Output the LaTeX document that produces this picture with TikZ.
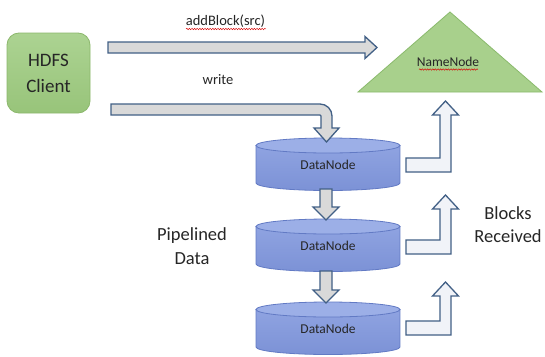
\documentclass[tikz,border=0pt]{standalone}
\usepackage{fontspec}
\setmainfont{Carlito}
\usetikzlibrary{decorations.pathmorphing}

\definecolor{inktext}{RGB}{38,38,38}
\definecolor{arrowedge}{RGB}{66,96,134}
\definecolor{shaftgrey}{RGB}{217,217,217}
\definecolor{palefill}{RGB}{241,243,248}
\definecolor{cyledge}{RGB}{98,122,196}
\definecolor{cyllidfill}{RGB}{156,175,231}
\definecolor{cylupper}{RGB}{143,163,225}
\definecolor{cyllower}{RGB}{124,146,214}
\definecolor{clientedge}{RGB}{140,184,108}
\definecolor{clientupper}{RGB}{172,211,146}
\definecolor{clientlower}{RGB}{152,196,122}
\definecolor{nameedge}{RGB}{138,186,108}
\definecolor{namefill}{RGB}{168,208,140}

% one DataNode drum: #1 = name, #2 = y of the top rim
\newcommand\datadrum[2]{%
  \coordinate (#1) at (328,#2);
  \path[drumside] (256,#2+7.5) -- (256,#2+45)
     arc[start angle=180,end angle=0,x radius=72,y radius=7.5]
     -- (400,#2+7.5) -- cycle;
  \draw[drumlid] (328,#2+7.5) ellipse[x radius=72,y radius=7.5];
  \node[dntext] (#1label) at (328,#2+31) {DataNode};
}

% arrow climbing from a drum to the NameNode: #1 = y of bar top, #2 = y of tip
\newcommand\risearrow[2]{%
  \draw[riseblock] (406,#1) -- (440,#1) -- (440,#2+14) -- (432.5,#2+14)
     -- (445.5,#2) -- (458.5,#2+14) -- (451,#2+14) -- (451,#1+14)
     -- (406,#1+14) -- cycle;
}

% short arrow down the pipeline: #1 = y of shaft start, #2 = y of tip
\newcommand\pipearrow[2]{%
  \draw[blockarrow] (320,#1) -- (332,#1) -- (332,#2-13) -- (339,#2-13)
     -- (326,#2) -- (313,#2-13) -- (320,#2-13) -- cycle;
}

\begin{document}
\begin{tikzpicture}[x=1pt,y=-1pt,
  blockarrow/.style={draw=arrowedge,line width=1.3pt,line join=miter,fill=shaftgrey},
  riseblock/.style={blockarrow,fill=palefill},
  drumside/.style={draw=cyledge,line width=0.8pt,top color=cylupper,bottom color=cyllower},
  drumlid/.style={draw=cyledge,line width=0.8pt,fill=cyllidfill},
  dntext/.style={anchor=base,inner sep=0pt,text=inktext,font=\fontsize{13.5}{16}\selectfont},
  smalltext/.style={anchor=base,inner sep=0pt,text=inktext,font=\fontsize{14.5}{17}\selectfont},
  spell/.style={draw=red!85!black,line width=0.45pt,decorate,
     decoration={snake,amplitude=0.7pt,segment length=2.6pt}},
  clientbox/.style={draw=clientedge,line width=0.8pt,rounded corners=12pt,
     top color=clientupper,bottom color=clientlower,minimum width=83pt,minimum height=80pt},
]
\useasboundingbox (0,0) rectangle (545,356);
\fill[white] (0,0) rectangle (545,356);

% HDFS client
\node[clientbox] (client) at (48.5,73) {};
\node[align=center,text=inktext,font=\fontsize{19}{26}\selectfont] (clientlabel)
   at (48.5,73) {HDFS\\Client};

% NameNode
\coordinate (nnapex) at (450,12);
\coordinate (nnleft) at (358,92);
\coordinate (nnright) at (542,92);
\draw[draw=nameedge,line width=0.8pt,fill=namefill] (nnapex) -- (nnright) -- (nnleft) -- cycle;
\node[dntext] (namenode) at (448,66) {NameNode};
\draw[spell] (419,69.5) -- (478,69.5);

% the three DataNodes
\datadrum{dn1}{138}
\datadrum{dn2}{219}
\datadrum{dn3}{302}

% addBlock(src): client to NameNode
\draw[blockarrow] (108,42) -- (365,42) -- (365,36.5) -- (377,47.5) -- (365,58.5)
   -- (365,53) -- (108,53) -- cycle;
\node[smalltext] (addblock) at (225.5,25) {addBlock(src)};
\draw[spell] (186,29) -- (266,29);

% write: client to the first DataNode
\draw[blockarrow] (111,104) -- (320,104)
   arc[start angle=-90,end angle=0,radius=12] -- (332,128) -- (339,128)
   -- (326.5,142) -- (314,128) -- (321,128) -- (321,116)
   arc[start angle=0,end angle=-90,radius=1] -- (111,115) -- cycle;
\node[smalltext] (write) at (218,84) {write};

% pipeline between the DataNodes
\pipearrow{189}{220}
\pipearrow{271}{303}
\node[align=center,text=inktext,font=\fontsize{18.5}{24}\selectfont] (pipelined)
   at (192,246) {Pipelined\\Data};

% block reports back to the NameNode
\risearrow{158}{101}
\risearrow{240}{195}
\risearrow{321}{282}
\node[align=center,text=inktext,font=\fontsize{18.5}{23}\selectfont] (received)
   at (508,225) {Blocks\\Received};
\end{tikzpicture}
\end{document}
